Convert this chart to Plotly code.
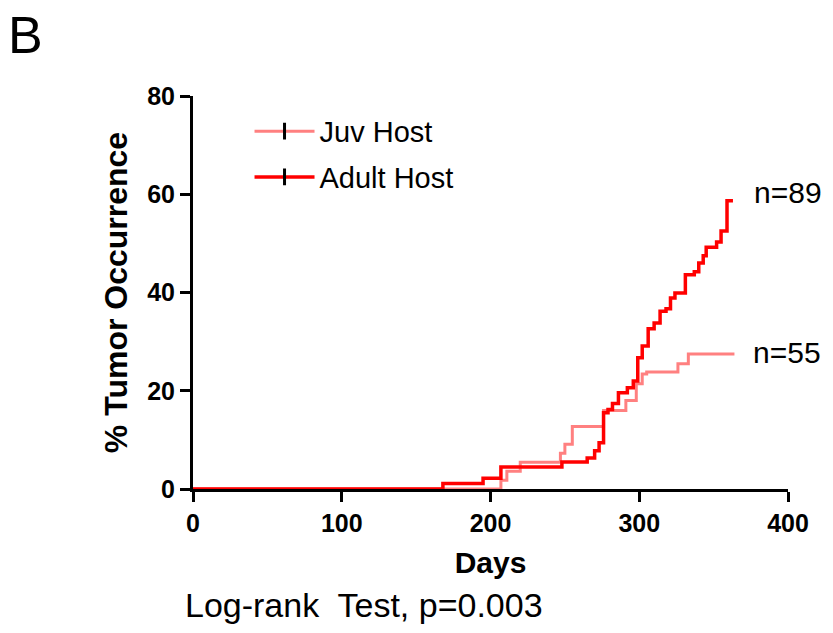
import plotly.graph_objects as go

# Adult host (n=89) Kaplan-Meier-style cumulative occurrence
adult_days = [0, 168, 195, 207, 248, 265, 270, 273, 276, 279, 282, 286, 292, 296, 299, 302,
              306, 310, 314, 318, 321, 324, 331, 337, 340, 343, 345, 352, 355, 359, 363]
adult_pct = [0, 1.1, 2.2, 4.5, 5.5, 6.3, 7.8, 9.4, 15.5, 16.2, 17.4, 19.6, 20.6, 22.0, 26.7, 29.1,
             32.6, 33.8, 36.2, 36.7, 38.9, 39.9, 43.6, 44.2, 46.0, 47.5, 49.2, 50.3, 52.5, 58.7, 58.7]

# Juvenile host (n=55)
juv_days = [0, 207, 211, 220, 247, 250, 255, 276, 291, 298, 302, 305, 326, 333, 364]
juv_pct = [0, 1.8, 3.6, 5.45, 7.3, 9.1, 12.7, 16.0, 18.0, 21.4, 23.4, 23.8, 25.5, 27.5, 27.5]

x_ticks = [0, 100, 200, 300, 400]
y_ticks = [0, 20, 40, 60, 80]

JUV = "#FF8080"
ADULT = "#FF0000"
FONT = "Liberation Sans, Arial, sans-serif"

fig = go.Figure()
fig.add_trace(go.Scatter(x=juv_days, y=juv_pct, mode="lines", line=dict(color=JUV, width=3, shape="hv"),
                         showlegend=False, hoverinfo="skip"))
fig.add_trace(go.Scatter(x=adult_days, y=adult_pct, mode="lines", line=dict(color=ADULT, width=3.5, shape="hv"),
                         showlegend=False, hoverinfo="skip"))
# legend entries
fig.add_trace(go.Scatter(x=[None], y=[None], mode="lines+markers", name="Juv Host", legendgroup="j",
                         line=dict(color=JUV, width=3),
                         marker=dict(symbol="line-ns", size=12, line=dict(color="black", width=3), color="black")))
fig.add_trace(go.Scatter(x=[None], y=[None], mode="lines+markers", name="Adult Host", legendgroup="a",
                         line=dict(color=ADULT, width=3.5),
                         marker=dict(symbol="line-ns", size=12, line=dict(color="black", width=3), color="black")))

fig.update_layout(
    width=833, height=633,
    margin=dict(l=193, r=45, t=96, b=144),
    plot_bgcolor="white", paper_bgcolor="white",
    font=dict(family=FONT, color="black"),
    legend=dict(x=0.095, y=0.975, xanchor="left", yanchor="top", font=dict(size=29, family=FONT),
                tracegroupgap=5, bgcolor="rgba(0,0,0,0)", itemwidth=60),
    xaxis=dict(range=[0, 400], tickvals=x_ticks, ticktext=[str(v) for v in x_ticks],
               showline=True, linecolor="black", linewidth=3, ticks="outside", ticklen=10, tickwidth=3,
               tickcolor="black", showgrid=False, zeroline=False,
               tickfont=dict(size=25, family=FONT, weight="bold"),
               title=dict(text="Days", font=dict(size=30, family=FONT, weight="bold"), standoff=16)),
    yaxis=dict(range=[0, 80], tickvals=y_ticks, ticktext=[str(v) for v in y_ticks],
               showline=True, linecolor="black", linewidth=3, ticks="outside", ticklen=10, tickwidth=3,
               tickcolor="black", showgrid=False, zeroline=False,
               tickfont=dict(size=25, family=FONT, weight="bold"),
               title=dict(text="% Tumor Occurrence", font=dict(size=32, family=FONT, weight="bold"), standoff=10)),
)

fig.add_annotation(text="B", xref="paper", yref="paper", x=-193/595, y=1 + 96/393, xanchor="left", yanchor="top",
                   yshift=-4, xshift=6, showarrow=False, font=dict(size=52, family=FONT))
fig.add_annotation(text="n=89", xref="x", yref="y", x=adult_days[-1], y=adult_pct[-1], xanchor="left",
                   yanchor="middle", xshift=19, yshift=8, showarrow=False, font=dict(size=30, family=FONT))
fig.add_annotation(text="n=55", xref="x", yref="y", x=juv_days[-1], y=juv_pct[-1], xanchor="left",
                   yanchor="middle", xshift=17, yshift=1, showarrow=False, font=dict(size=30, family=FONT))
fig.add_annotation(text="Log-rank  Test, p=0.003", xref="paper", yref="paper", x=-10/595, y=-116/393,
                   xanchor="left", yanchor="middle", showarrow=False, font=dict(size=34, family=FONT))

fig.write_html("out.html")
